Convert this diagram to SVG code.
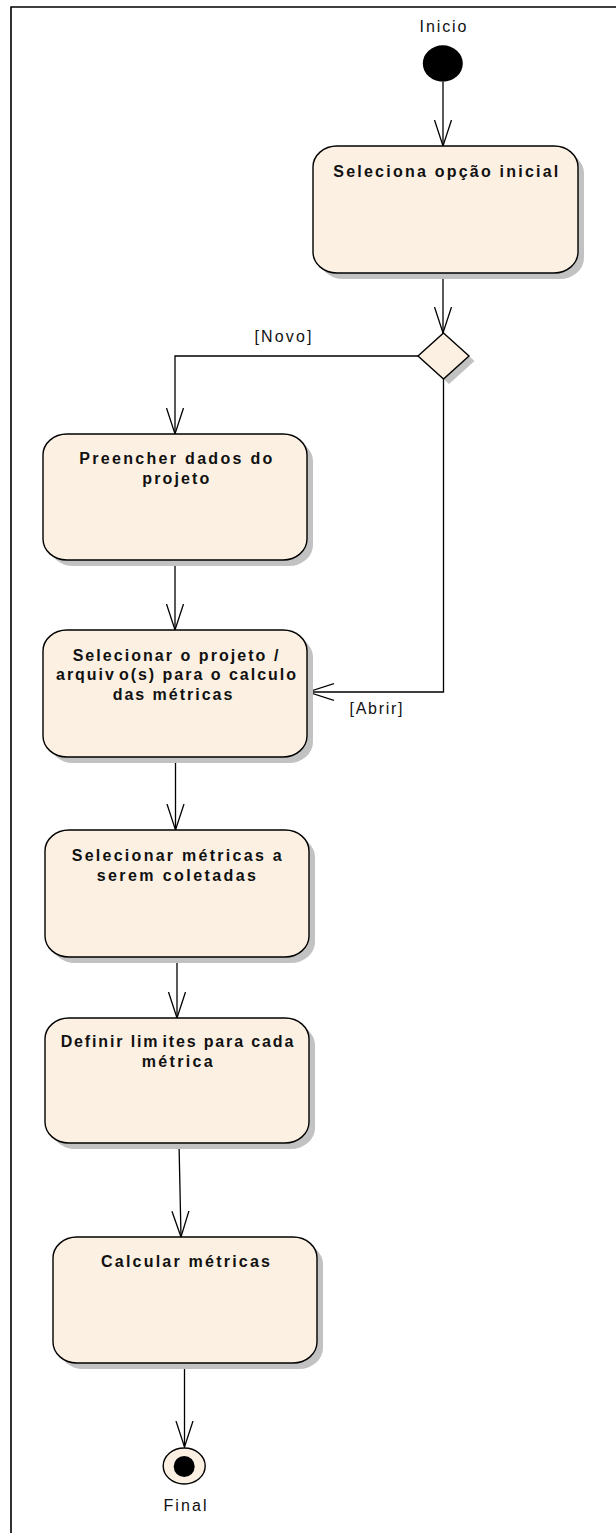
<svg xmlns="http://www.w3.org/2000/svg" width="616" height="1533" viewBox="0 0 616 1533">
  <style>
    .frame { fill: none; stroke: #000; stroke-width: 1.6; }
    .shadow { fill: #c2c2c2; }
    .act { fill: #fbf0e2; stroke: #000; stroke-width: 1.4; }
    .title { font-family: "Liberation Sans", Arial, sans-serif; font-size: 16px; font-weight: bold; fill: #111; text-anchor: middle; }
    .label { font-family: "Liberation Sans", Arial, sans-serif; font-size: 16px; fill: #111; text-anchor: middle; }
    .flow { fill: none; stroke: #000; stroke-width: 1.3; marker-end: url(#open); }
  </style>
  <defs>
    <marker id="open" markerUnits="userSpaceOnUse" viewBox="0 0 30 20" markerWidth="30" markerHeight="20" refX="26" refY="10" orient="auto">
      <path d="M0 1.5 L26 10 L0 18.5" fill="none" stroke="#000" stroke-width="1.3"/>
    </marker>
  </defs>
  <rect width="616" height="1533" fill="#fff"/>

  <!-- diagram frame (top and left edges) -->
  <path class="frame" d="M11 1533 V7 H616"/>

  <!-- connectors -->
  <g id="connectors">
    <path class="flow" d="M443 82 V146"/>
    <path class="flow" d="M443 273 V333"/>
    <path class="flow" d="M418 356 H175 V434"/>
    <path class="flow" d="M443.5 379 V692 H308"/>
    <path class="flow" d="M175 560 V630"/>
    <path class="flow" d="M175.5 757 V830"/>
    <path class="flow" d="M177 957 V1018"/>
    <path class="flow" d="M179 1143 L181 1237"/>
    <path class="flow" d="M184.5 1363 V1447"/>
    <text class="label" x="283" y="342" textLength="57" lengthAdjust="spacing">[Novo]</text>
    <text class="label" x="376" y="713.5" textLength="53" lengthAdjust="spacing">[Abrir]</text>
  </g>

  <!-- initial node -->
  <g id="inicio">
    <ellipse cx="442.8" cy="63.5" rx="20" ry="18.2" fill="#000"/>
    <text class="label" x="443" y="32" textLength="47" lengthAdjust="spacing">Inicio</text>
  </g>

  <g id="seleciona-opcao">
    <rect class="shadow" x="319" y="152" width="265" height="127" rx="24" ry="21"/>
    <rect class="act" x="313" y="146" width="265" height="127" rx="24" ry="21"/>
    <text class="title" x="445.8" y="177" textLength="225" lengthAdjust="spacing">Seleciona opção inicial</text>
  </g>

  <g id="decisao">
    <path class="shadow" d="M449 338 L474.5 361 L449 384 L423.5 361 Z"/>
    <path class="act" d="M443.5 333 L469 356 L443.5 379 L418 356 Z"/>
  </g>

  <g id="preencher-dados">
    <rect class="shadow" x="49" y="440" width="264" height="126" rx="24" ry="21"/>
    <rect class="act" x="43" y="434" width="264" height="126" rx="24" ry="21"/>
    <text class="title" x="175.8" y="464" textLength="193" lengthAdjust="spacing">Preencher dados do</text>
    <text class="title" x="175.8" y="484" textLength="67" lengthAdjust="spacing">projeto</text>
  </g>

  <g id="selecionar-projeto">
    <rect class="shadow" x="49" y="636" width="264" height="127" rx="24" ry="21"/>
    <rect class="act" x="43" y="630" width="264" height="127" rx="24" ry="21"/>
    <text class="title" x="175.5" y="660.5" textLength="205.7" lengthAdjust="spacing">Selecionar o projeto /</text>
    <text class="title" x="176" y="680" textLength="240" lengthAdjust="spacing">arquiv<tspan dx="3">o(s)</tspan> para o calculo</text>
    <text class="title" x="172.5" y="699.5" textLength="119.7" lengthAdjust="spacing">das métricas</text>
  </g>

  <g id="selecionar-metricas">
    <rect class="shadow" x="51" y="836" width="264" height="127" rx="24" ry="21"/>
    <rect class="act" x="45" y="830" width="264" height="127" rx="24" ry="21"/>
    <text class="title" x="176.7" y="860.5" textLength="210" lengthAdjust="spacing">Selecionar métricas a</text>
    <text class="title" x="176.3" y="880.5" textLength="159.3" lengthAdjust="spacing">serem coletadas</text>
  </g>

  <g id="definir-limites">
    <rect class="shadow" x="51" y="1024" width="264" height="125" rx="24" ry="21"/>
    <rect class="act" x="45" y="1018" width="264" height="125" rx="24" ry="21"/>
    <text class="title" x="177" y="1047.3" textLength="232.7" lengthAdjust="spacing">Definir lim<tspan dx="3">ites</tspan> para cada</text>
    <text class="title" x="177.2" y="1067.3" textLength="71" lengthAdjust="spacing">métrica</text>
  </g>

  <g id="calcular-metricas">
    <rect class="shadow" x="59" y="1243" width="264" height="126" rx="24" ry="21"/>
    <rect class="act" x="53" y="1237" width="264" height="126" rx="24" ry="21"/>
    <text class="title" x="185.5" y="1267.3" textLength="169" lengthAdjust="spacing">Calcular métricas</text>
  </g>

  <!-- final node -->
  <g id="final">
    <ellipse cx="184.2" cy="1466" rx="21" ry="18" fill="#fbf0e2" stroke="#000" stroke-width="1.4"/>
    <ellipse cx="184.2" cy="1466.5" rx="10.5" ry="10.5" fill="#000"/>
    <text class="label" x="185" y="1511" textLength="43" lengthAdjust="spacing">Final</text>
  </g>
</svg>
